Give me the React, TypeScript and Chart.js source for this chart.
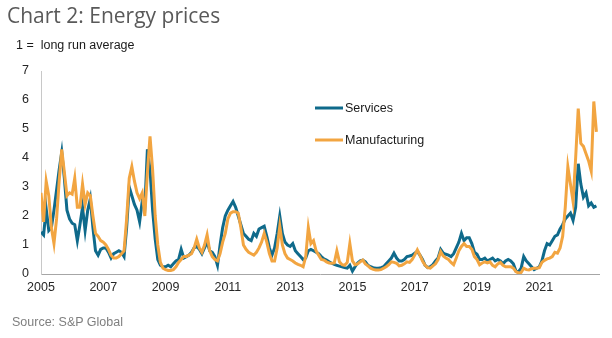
import React, { useEffect, useRef } from 'react';
import { Chart, registerables } from 'chart.js';

Chart.register(...registerables);

// Monthly data, January 2005 to November 2022 (1 = long run average)
const startYear = 2005;
const seriesNames = ['Services', 'Manufacturing'];
const yearTickLabels = ['2005', '2007', '2009', '2011', '2013', '2015', '2017', '2019', '2021'];
const yTickValues = [0, 1, 2, 3, 4, 5, 6, 7];

const servicesValues = [
  1.45, 1.35, 2.25, 1.5, 1.6, 2.2, 2.9, 3.6, 4.2, 3.3, 2.2, 1.9,
  1.75, 1.7, 1.15, 1.7, 2.3, 1.5, 2.2, 2.6, 1.6, 0.8, 0.65, 0.85,
  0.9, 0.9, 0.75, 0.55, 0.7, 0.75, 0.8, 0.75, 0.6, 1.6, 3.0, 2.7,
  2.4, 2.2, 1.8, 2.5, 2.3, 4.3, 3.6, 2.2, 1.2, 0.5, 0.3, 0.25,
  0.25, 0.3, 0.25, 0.35, 0.45, 0.5, 0.85, 0.55, 0.6, 0.65, 0.75, 0.9,
  0.95, 0.85, 0.7, 0.9, 1.1, 0.8, 0.75, 0.6, 0.3, 1.0, 1.6, 2.0,
  2.2, 2.35, 2.5, 2.3, 2.0, 1.7, 1.4, 1.3, 1.2, 1.15, 1.4, 1.3,
  1.55, 1.6, 1.65, 1.3, 0.9, 0.65, 0.9, 1.4, 2.0, 1.4, 1.1, 1.0,
  0.95, 1.05, 0.8, 0.7, 0.6, 0.5, 0.55, 0.8, 0.85, 0.8, 0.75, 0.7,
  0.6, 0.52, 0.48, 0.42, 0.37, 0.33, 0.3, 0.27, 0.25, 0.22, 0.2, 0.3,
  0.1, 0.25, 0.38, 0.45, 0.48, 0.42, 0.3, 0.25, 0.22, 0.2, 0.2, 0.22,
  0.25, 0.35, 0.45, 0.55, 0.72, 0.55, 0.45, 0.45, 0.5, 0.6, 0.62, 0.65,
  0.72, 0.78, 0.65, 0.5, 0.3, 0.22, 0.25, 0.32, 0.45, 0.55, 0.85, 0.72,
  0.68, 0.65, 0.6, 0.7, 0.9, 1.1, 1.4, 1.15, 1.25, 1.25, 1.05, 0.75,
  0.68, 0.5, 0.5, 0.55, 0.45, 0.5, 0.55, 0.45, 0.5, 0.45, 0.35, 0.45,
  0.5, 0.45, 0.35, 0.1, 0.08, 0.2, 0.6, 0.45, 0.35, 0.25, 0.15, 0.2,
  0.25, 0.45, 0.8, 1.05, 1.0, 1.15, 1.3, 1.35, 1.55, 1.7, 1.9, 2.0,
  2.1, 1.85, 2.3, 3.8, 3.1, 2.65, 2.8, 2.35, 2.45, 2.3, 2.35,
];

const manufacturingValues = [
  2.8, 1.8, 3.2, 2.7, 1.6, 1.05, 1.9, 3.2, 4.3, 3.5, 2.7, 2.8,
  2.75, 3.3, 2.3, 2.3, 3.1, 2.4, 2.8, 2.7, 2.0, 1.4, 1.3, 1.15,
  1.1, 1.0, 0.85, 0.65, 0.55, 0.55, 0.6, 0.7, 0.8, 1.9, 3.3, 3.7,
  3.2, 2.8, 2.6, 2.8, 2.0, 3.5, 4.75, 3.6, 2.0, 1.0, 0.4, 0.2,
  0.15, 0.12, 0.12, 0.15, 0.25, 0.4, 0.5, 0.6, 0.6, 0.65, 0.7, 0.9,
  1.2, 0.9, 0.75, 1.0, 1.35, 0.8, 0.6, 0.5, 0.45, 0.7, 1.1, 1.4,
  1.9, 2.1, 2.15, 2.15, 2.1, 1.6, 1.0, 0.85, 0.75, 0.7, 0.65, 0.75,
  0.9, 1.1, 1.4, 1.1, 0.7, 0.45, 0.45, 0.9, 1.65, 1.0, 0.7, 0.55,
  0.5, 0.45, 0.38, 0.33, 0.3, 0.25, 0.6, 1.6, 1.05, 1.15, 0.8, 0.65,
  0.5, 0.48, 0.42, 0.38, 0.37, 0.38, 0.8, 0.42, 0.32, 0.3, 0.4, 1.05,
  0.45, 0.32, 0.35, 0.42, 0.48, 0.35, 0.28, 0.2, 0.16, 0.14, 0.14, 0.15,
  0.2, 0.25, 0.32, 0.42, 0.4, 0.37, 0.28, 0.3, 0.35, 0.42, 0.4, 0.5,
  0.65, 0.83, 0.65, 0.45, 0.3, 0.22, 0.2, 0.28, 0.35, 0.5, 0.77, 0.62,
  0.55, 0.5, 0.4, 0.32, 0.55, 0.8, 0.95, 1.05, 0.95, 0.95, 0.85, 0.6,
  0.5, 0.32, 0.38, 0.42, 0.38, 0.42, 0.3, 0.25, 0.35, 0.4, 0.3, 0.25,
  0.25, 0.25, 0.2, 0.08, 0.03, 0.05, 0.2, 0.15, 0.14, 0.18, 0.2, 0.2,
  0.22, 0.4, 0.47, 0.52, 0.55, 0.6, 0.75, 0.72, 0.9, 1.3, 2.3, 3.7,
  3.1, 2.5, 4.0, 5.7, 4.5, 4.4, 4.15, 3.9, 3.55, 5.95, 4.9,
];

const TEAL = '#0f6a8b';
const ORANGE = '#f2a541';
const FONT = 'Arial, "Liberation Sans", sans-serif';

const toPoints = (vals: number[]) =>
  vals.map((v, i) => ({ x: startYear + i / 12, y: v }));

const legendPlugin = {
  id: 'customLegend',
  afterDatasetsDraw(chart: any) {
    const ctx = chart.ctx;
    const items = [
      { label: seriesNames[0], color: TEAL, y: 108 },
      { label: seriesNames[1], color: ORANGE, y: 140 },
    ];
    ctx.save();
    items.forEach((it) => {
      ctx.strokeStyle = it.color;
      ctx.lineWidth = 3;
      ctx.beginPath();
      ctx.moveTo(315, it.y);
      ctx.lineTo(343, it.y);
      ctx.stroke();
      ctx.fillStyle = '#1a1a1a';
      ctx.font = '12.5px ' + FONT;
      ctx.textBaseline = 'middle';
      ctx.textAlign = 'left';
      ctx.fillText(it.label, 345, it.y + 0.5);
    });
    ctx.restore();
  },
};

export default function App() {
  const ref = useRef<HTMLCanvasElement>(null);

  useEffect(() => {
    if (!ref.current) return;
    const chart = new Chart(ref.current, {
      type: 'line',
      data: {
        datasets: [
          {
            label: seriesNames[0],
            data: toPoints(servicesValues),
            borderColor: TEAL,
            backgroundColor: TEAL,
            borderWidth: 3,
            pointRadius: 0,
            tension: 0,
            order: 1,
          },
          {
            label: seriesNames[1],
            data: toPoints(manufacturingValues),
            borderColor: ORANGE,
            backgroundColor: ORANGE,
            borderWidth: 3,
            pointRadius: 0,
            tension: 0,
            order: 0,
          },
        ],
      },
      options: {
        animation: false,
        responsive: false,
        maintainAspectRatio: false,
        layout: { padding: { left: 0, right: 13, top: 71, bottom: 0 } },
        plugins: {
          legend: { display: false },
          tooltip: { enabled: false },
          title: { display: false },
        },
        scales: {
          x: {
            type: 'linear',
            min: startYear,
            max: startYear + 215 / 12,
            afterBuildTicks: (s: any) => {
              s.ticks = yearTickLabels.map((y) => ({ value: Number(y) }));
            },
            afterFit: (s: any) => {
              s.height = 64;
            },
            ticks: {
              callback: (v: any) => String(v),
              color: '#262626',
              font: { family: FONT, size: 12.5 },
              padding: 6,
              maxRotation: 0,
              autoSkip: false,
            },
            grid: { display: false, drawTicks: false },
            border: { display: true, color: '#a6a6a6', width: 1 },
          },
          y: {
            min: 0,
            max: 7,
            afterBuildTicks: (s: any) => {
              s.ticks = yTickValues.map((v) => ({ value: v }));
            },
            afterFit: (s: any) => {
              s.width = 41;
            },
            ticks: {
              color: '#262626',
              font: { family: FONT, size: 12.5 },
              padding: 12,
            },
            grid: { display: false, drawTicks: false },
            border: { display: true, color: '#c8c8c8', width: 1 },
          },
        },
      },
      plugins: [legendPlugin],
    } as any);
    return () => chart.destroy();
  }, []);

  return (
    <div style={{ position: 'absolute', left: 0, top: 0, width: 612, height: 338, background: '#fff' }}>
      <canvas ref={ref} width={612} height={338} style={{ display: 'block', position: 'absolute', left: 0, top: 0 }} />
      <div
        style={{
          position: 'absolute', left: 7, top: 5, fontFamily: '"Open Sans", sans-serif',
          fontSize: 21, lineHeight: '21px', color: '#595959', whiteSpace: 'pre',
        }}
      >
        Chart 2: Energy prices
      </div>
      <div
        style={{
          position: 'absolute', left: 16, top: 39, fontFamily: FONT,
          fontSize: 12.5, lineHeight: '12.5px', color: '#1a1a1a', whiteSpace: 'pre',
        }}
      >
        {'1 =  long run average'}
      </div>
      <div
        style={{
          position: 'absolute', left: 12, top: 316, fontFamily: FONT,
          fontSize: 12.5, lineHeight: '12.5px', color: '#7f7f7f', whiteSpace: 'pre',
        }}
      >
        Source: S&amp;P Global
      </div>
    </div>
  );
}
